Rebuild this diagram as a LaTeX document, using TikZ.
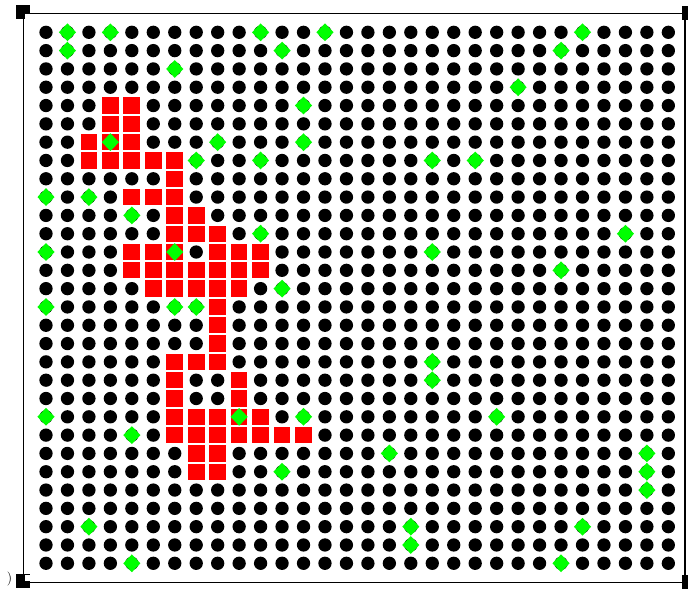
\documentclass[tikz,border=0pt]{standalone}
\usepackage{tikz}
\usepackage{xcolor}
\usetikzlibrary{shapes.geometric}
\definecolor{cellred}{RGB}{255,0,0}
\definecolor{gemgreen}{RGB}{0,255,0}

\begin{document}
\begin{tikzpicture}[
  x=1pt, y=-1pt,
  dotmark/.style={circle, fill=black, inner sep=0pt, minimum size=13.3pt},
  cellmark/.style={rectangle, fill=cellred, inner sep=0pt, minimum width=16.7pt, minimum height=16.3pt},
  gemmark/.style={diamond, fill=gemgreen, inner sep=0pt, minimum width=17.3pt, minimum height=18pt},
  handle/.style={rectangle, fill=black, inner sep=0pt, minimum size=14pt},
  notch/.style={rectangle, fill=white, inner sep=0pt, minimum size=5.5pt}
]
\path[use as bounding box] (0,0) rectangle (688,590);

% frame handles
\node[handle] (htl) at (23,12) {};
\node[handle] (hbl) at (23,580.5) {};
\node[handle] (htr) at (689,13) {};
\node[handle] (hbr) at (689,582) {};
\node[notch] (ntl) at (27.5,16.5) {};
\node[notch] (nbl) at (27.5,578) {};
\node[inner sep=0pt, font=\fontsize{14}{14}\selectfont] (paren) at (9.5,579) {)};

% frame
\coordinate (ftl) at (23.3,13.3);
\coordinate (fbr) at (685,582.7);
\draw[line width=1.3pt] (ftl) rectangle (fbr);

% dot grid
\foreach \c in {0,...,29}
  \foreach \r in {0,...,29}
    \node[dotmark] (d-\c-\r) at ({46+21.46*\c},{32.3+18.31*\r}) {};

% red cells
\foreach \c/\r in {3/4,4/4, 3/5,4/5, 2/6,3/6,4/6, 2/7,3/7,4/7,5/7,6/7, 6/8,
  4/9,5/9,6/9, 6/10,7/10, 6/11,7/11,8/11,
  4/12,5/12,6/12,8/12,9/12,10/12,
  4/13,5/13,6/13,7/13,8/13,9/13,10/13,
  5/14,6/14,7/14,8/14,9/14,
  8/15, 8/16, 8/17, 6/18,7/18,8/18,
  6/19,9/19, 6/20,9/20,
  6/21,7/21,8/21,9/21,10/21,
  6/22,7/22,8/22,9/22,10/22,11/22,12/22,
  7/23,8/23, 7/24,8/24}
  \node[cellmark] (cell-\c-\r) at ({46+21.46*\c},{32.3+18.31*\r}) {};

% green diamonds
\foreach \c/\r in {1/0,3/0,10/0,13/0,25/0, 1/1,11/1,24/1, 6/2, 22/3, 12/4,
  3/6,8/6,12/6, 7/7,10/7,18/7,20/7, 0/9,2/9, 4/10, 10/11,27/11,
  0/12,6/12,18/12, 24/13, 11/14, 0/15,6/15,7/15, 18/18,18/19,
  0/21,9/21,12/21,21/21, 4/22, 16/23,28/23, 11/24,28/24, 28/25,
  2/27,17/27,25/27, 17/28, 4/29,24/29}
  \node[gemmark] (gem-\c-\r) at ({46+21.46*\c},{32.3+18.31*\r}) {};
\end{tikzpicture}
\end{document}
